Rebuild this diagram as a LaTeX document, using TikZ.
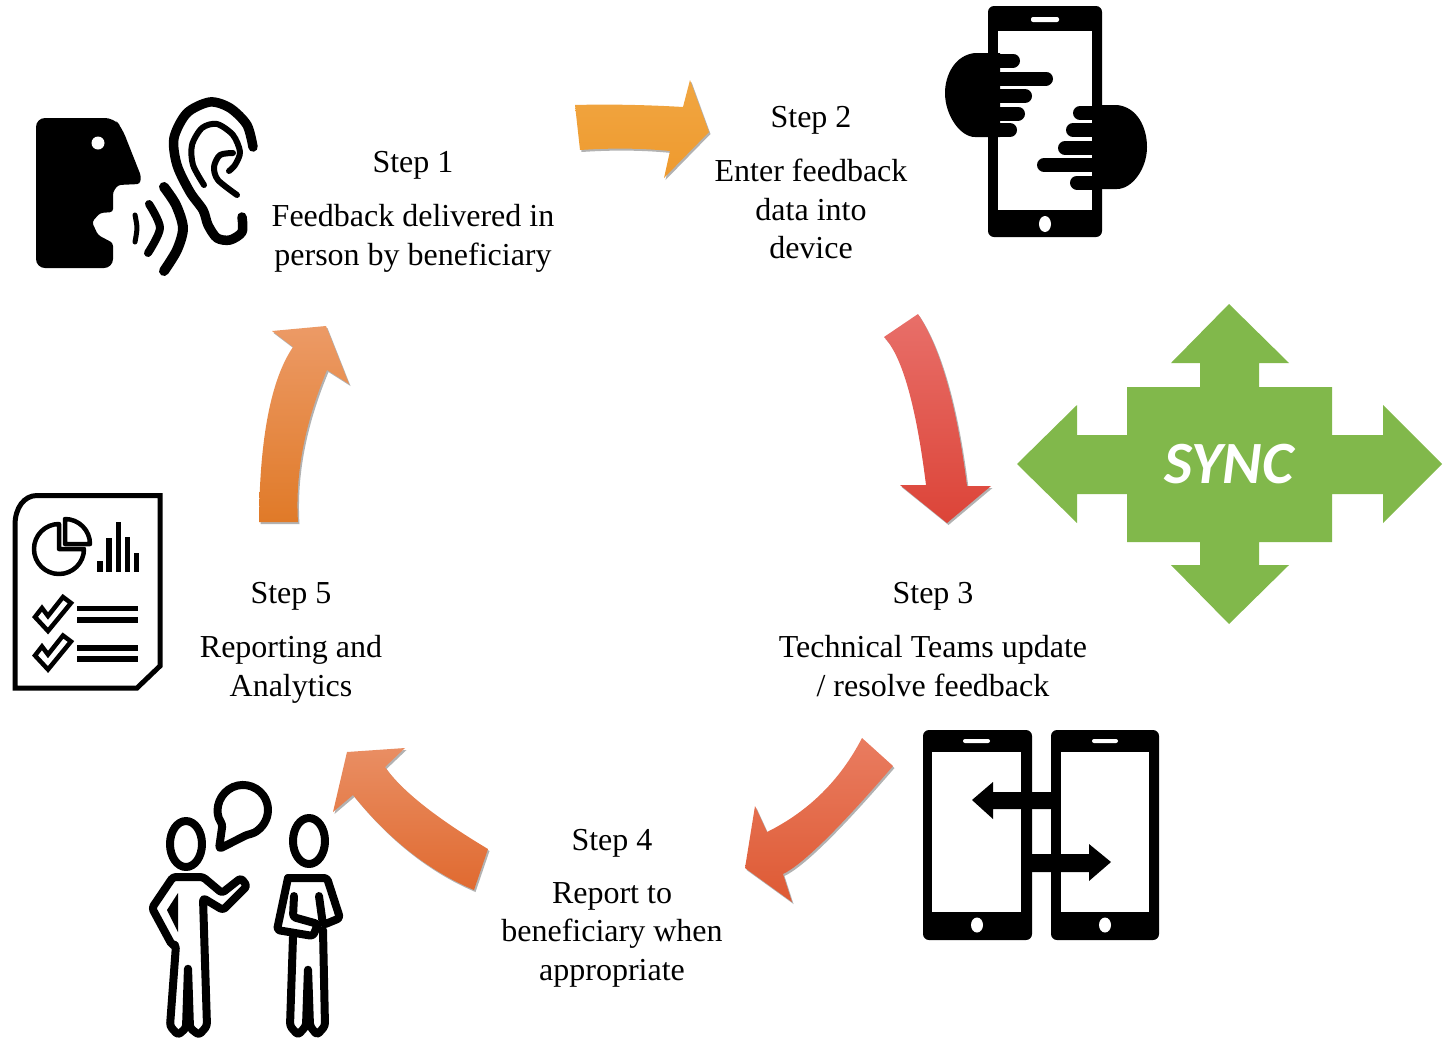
\documentclass[tikz,border=0pt]{standalone}
\usepackage{fontspec}
\setmainfont{Liberation Serif}
\newfontfamily\syncfont{Carlito}
\usetikzlibrary{positioning}
\usetikzlibrary{shadows}
\definecolor{syncgreen}{HTML}{81B84B}
\definecolor{arrowAtop}{HTML}{F0A642}
\definecolor{arrowAbot}{HTML}{EF9A2E}
\definecolor{arrowBtop}{HTML}{E86F69}
\definecolor{arrowBbot}{HTML}{DC4438}
\definecolor{arrowCtop}{HTML}{E97C60}
\definecolor{arrowCbot}{HTML}{DE5A34}
\definecolor{arrowDtop}{HTML}{E98E63}
\definecolor{arrowDbot}{HTML}{E06A30}
\definecolor{arrowEtop}{HTML}{EC9A66}
\definecolor{arrowEbot}{HTML}{E07A28}
\tikzset{steptitle/.style={font=\fontsize{32}{38.5}\selectfont,inner sep=0pt,align=center}}
\tikzset{stepbody/.style={steptitle,below=25pt of #1}}
\tikzset{bigarrow/.style={drop shadow={shadow xshift=1.5pt,shadow yshift=-2pt,opacity=.3,fill=black}}}
\tikzset{phonebody/.style={fill=black,rounded corners=6pt}}
\tikzset{whitepart/.style={fill=white}}
\tikzset{finger/.style={draw=black,line width=14pt,line cap=round}}
\tikzset{ink/.style={draw=black,line cap=round,line join=round}}
\tikzset{person/.style={ink,line width=8pt,rounded corners=3pt}}
\tikzset{checkmark/.style={draw=black,fill=white,line width=4.5pt,line join=miter}}
\begin{document}
\begin{tikzpicture}[x=1pt,y=-1pt]
    \useasboundingbox (0,0) rectangle (1446,1042);

    % labels
    \node[steptitle] (step1) at (413,165) {Step 1};
    \node[stepbody=step1] (body1) {Feedback delivered in\\person by beneficiary};
    \node[steptitle] (step2) at (811,120) {Step 2};
    \node[stepbody=step2] (body2) {Enter feedback\\data into\\device};
    \node[steptitle] (step3) at (933,596) {Step 3};
    \node[stepbody=step3] (body3) {Technical Teams update\\/ resolve feedback};
    \node[steptitle] (step4) at (612,843) {Step 4};
    \node[stepbody=step4] (body4) {Report to\\beneficiary when\\appropriate};
    \node[steptitle] (step5) at (291,596) {Step 5};
    \node[stepbody=step5] (body5) {Reporting and\\Analytics};

    % big arrows
    \path[bigarrow,top color=arrowAtop,bottom color=arrowAbot] (575,105) .. controls (610,104) and (650,105) .. (683,107) -- (690,80) -- (709,132) -- (664,178) -- (670,151) .. controls (640,148) and (610,148) .. (580,150) -- cycle;
    \path[bigarrow,top color=arrowBtop,bottom color=arrowBbot] (918,314) .. controls (940.3,347.3) and (956.7,404.7) .. (967,486) -- (991,486) -- (947,523) -- (900,485) -- (926,485) .. controls (916,405) and (902,355.7) .. (884,337) -- cycle;
    \path[bigarrow,top color=arrowCtop,bottom color=arrowCbot] (893,766) .. controls (839,828.7) and (802.3,864.7) .. (783,874) -- (792,902) -- (745,868) -- (755,806) -- (767,832) .. controls (808.7,811.3) and (840.3,780) .. (862,738) -- cycle;
    \path[bigarrow,top color=arrowDtop,bottom color=arrowDbot] (385,767) .. controls (401.3,790.3) and (435.7,817.7) .. (488,849) -- (474,890) .. controls (429,871) and (388.7,839.3) .. (353,795) -- (333,812) -- (347,752) -- (405,748) -- cycle;
    \path[bigarrow,top color=arrowEtop,bottom color=arrowEbot] (259,522) .. controls (259.7,437.7) and (271,379.3) .. (293,347) -- (272,331) -- (326,326) -- (349,384) -- (327,370) .. controls (304.7,423.3) and (295,474) .. (298,522) -- cycle;

    % sync cross
    \fill[syncgreen] (1229,304) -- (1289,363) -- (1259,363) -- (1259,387) -- (1332,387) -- (1332,435) -- (1383,435) -- (1383,405) -- (1442,464) -- (1383,523) -- (1383,494) -- (1332,494) -- (1332,542) -- (1259,542) -- (1259,565) -- (1289,565) -- (1229,624) -- (1171,565) -- (1200,565) -- (1200,542) -- (1127,542) -- (1127,494) -- (1077,494) -- (1077,523) -- (1017,464) -- (1077,405) -- (1077,435) -- (1127,435) -- (1127,387) -- (1200,387) -- (1200,363) -- (1171,363) -- cycle;
    \node[text=white,font=\syncfont\bfseries\itshape\fontsize{60}{60}\selectfont,inner sep=0pt] (sync) at (1229,464) {SYNC};

    % speaking head
    \fill[black,rounded corners=9pt] (36,190) -- (36,118) -- (114,118) -- (122,128) [rounded corners=3pt] -- (141,176) -- (140,184) -- (118,185) -- (113,192) -- (113,212) -- (100,213) -- (92,222) -- (98,235) -- (113,243) [rounded corners=9pt] -- (113,268) -- (36,268) -- cycle;
    \fill[white] (98,143) circle (6.5pt);
    \draw[ink,line width=5pt] plot[smooth] coordinates {(135,215) (137,228) (135,242)};
    \draw[ink,line width=8pt] plot[smooth] coordinates {(149,204) (160,228) (148,253)};
    \draw[ink,line width=10pt] plot[smooth] coordinates {(164,187) (176,205) (183,228) (177,250) (164,271)};
    \draw[ink,line width=9.5pt] plot[smooth] coordinates {(253,147) (247,125) (230,108) (210,102) (187,113) (174,138) (177,165) (190,192) (203,210) (208,225) (217,238) (230,240) (242,232) (242,217)};
    \draw[ink,line width=6pt] plot[smooth] coordinates {(204,185) (193,165) (192,145) (202,128) (217,124) (233,135) (240,152) (235,165) (229,171)};
    \draw[ink,line width=6pt] plot[smooth] coordinates {(233,153) (220,155) (214,167) (218,180) (237,195)};

    % phone with two hands
    \fill[phonebody] (988,6) rectangle (1102,237);
    \fill[whitepart] (998,31) rectangle (1092,210);
    \fill[whitepart,rounded corners=2pt] (1031,17) rectangle (1059,22);
    \fill[whitepart] (1045,224) ellipse (6pt and 8pt);
    \fill[black] (1000,53) -- (975,53) .. controls (955,55) and (945,75) .. (945,93) .. controls (945,115) and (960,137) .. (975,137) -- (1000,137) -- cycle;
    \draw[finger] (995,60.5) -- (1013,60.5);
    \draw[finger] (995,78.5) -- (1046,78.5);
    \draw[finger] (995,96) -- (1025,96);
    \draw[finger] (995,113.5) -- (1018,113.5);
    \draw[finger] (995,130) -- (1010,130);
    \fill[black] (1092,105) -- (1117,105) .. controls (1137,107) and (1147,127) .. (1147,147) .. controls (1147,169) and (1132,189) .. (1117,189) -- (1092,189) -- cycle;
    \draw[finger] (1097,113) -- (1080,113);
    \draw[finger] (1097,130) -- (1073,130);
    \draw[finger] (1097,148) -- (1065,148);
    \draw[finger] (1097,165) -- (1044,165);
    \draw[finger] (1097,182.5) -- (1077,182.5);

    % report sheet
    \draw[black,line width=5pt,line join=miter] (15,688) -- (15,525) .. controls (15,508) and (24,495.5) .. (37,495.5) -- (160,495.5) -- (160,666) -- (137,688) -- cycle;
    \draw[black,line width=4.5pt,line join=round] (59,524) arc[start angle=90,end angle=360,radius=25pt] -- (59,549) -- cycle;
    \draw[black,line width=4.5pt,line join=round] (65,519) arc[start angle=90,end angle=0,radius=25pt] -- (65,544) -- cycle;
    \fill[black] (97,561) rectangle (103,572);
    \fill[black] (106,538) rectangle (112,572);
    \fill[black] (116,522) rectangle (121,572);
    \fill[black] (125,537) rectangle (130,572);
    \fill[black] (134,553) rectangle (139,572);
    \path[checkmark] (35,617) -- (42,608) -- (48,616) -- (63,597) -- (71,603) -- (48,631) -- cycle;
    \path[checkmark] (35,655.5) -- (42,646.5) -- (48,654.5) -- (63,635.5) -- (71,641.5) -- (48,669.5) -- cycle;
    \fill[black] (77,606) rectangle (138,611);
    \fill[black] (77,617) rectangle (138,623);
    \fill[black] (77,645) rectangle (138,651);
    \fill[black] (77,656) rectangle (138,662);

    % two people talking
    \draw[person] (186,844) ellipse (16pt and 23pt);
    \draw[person] (309,841) ellipse (16pt and 23pt);
    \draw[person] (222.5,824.3) arc[start angle=215,end angle=-80,radius=25pt] -- (219,849) -- cycle;
    \draw[person] (173,877) -- (203,877) -- (222,893) -- (241,878) -- (247,886) -- (223,910) -- (203,898) -- (207,1026) -- (199,1035) -- (190,1028) -- (188,967) -- (186,1028) -- (178,1035) -- (170,1026) -- (176,945) -- (172,945) -- (152,908) -- cycle;
    \fill[black] (178,893) -- (167,910) -- (178,932) -- cycle;
    \draw[person] (288,878) -- (327,878) -- (340,918) -- (323,925) -- (319,896);
    \draw[person] (288,878) -- (277,930) -- (313,936) -- (318,924) -- (293,917) -- (294,896);
    \draw[person] (293,937) -- (290,1026) -- (298,1035) -- (306,1026) -- (308,968) -- (310,1026) -- (317,1035) -- (325,1026) -- (323,930);

    % two phones with arrows
    \fill[phonebody] (923,730) rectangle (1032,940);
    \fill[whitepart] (932,752) rectangle (1021,912);
    \fill[whitepart,rounded corners=2pt] (963,739) rectangle (990,743);
    \fill[whitepart] (977,925) ellipse (6pt and 7.5pt);
    \fill[phonebody] (1051,730) rectangle (1159,940);
    \fill[whitepart] (1061,752) rectangle (1149,912);
    \fill[whitepart,rounded corners=2pt] (1092,739) rectangle (1118,743);
    \fill[whitepart] (1105,925) ellipse (6pt and 7.5pt);
    \fill[black] (972,800) -- (993,782) -- (993,792) -- (1053,792) -- (1053,809) -- (993,809) -- (993,819) -- cycle;
    \fill[black] (1111,862) -- (1089,844) -- (1089,854) -- (1027,854) -- (1027,872) -- (1089,872) -- (1089,881) -- cycle;
\end{tikzpicture}
\end{document}
